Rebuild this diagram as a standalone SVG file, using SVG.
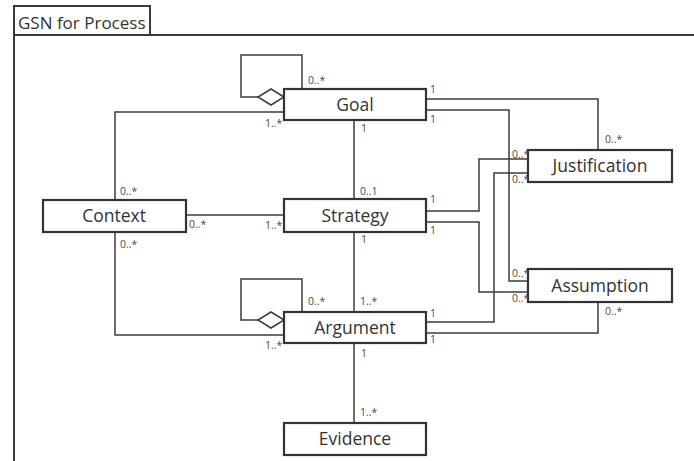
<svg xmlns="http://www.w3.org/2000/svg" width="694" height="461" viewBox="0 0 694 461">
  <style>
    .frame { fill: none; stroke: #3a3a3a; stroke-width: 2; }
    .box { fill: #ffffff; stroke: #333333; stroke-width: 2.2; }
    .wire { fill: none; stroke: #3d3d3d; stroke-width: 1.5; }
    .diamond { fill: #ffffff; stroke: #3d3d3d; stroke-width: 1.5; }
    .name { font-family: "Open Sans", "Liberation Sans", sans-serif; font-size: 17.5px; fill: #333333; text-anchor: middle; }
    .title { font-family: "Open Sans", "Liberation Sans", sans-serif; font-size: 17px; fill: #333333; }
    .mult { font-family: "Open Sans", "Liberation Sans", sans-serif; font-size: 10.5px; fill: #4a4a4a; }
  </style>

  <!-- package frame -->
  <g id="frame">
    <path class="frame" d="M14,470 V6 H150 V35 M14,35 H700"/>
    <text class="title" x="18" y="29">GSN for Process</text>
  </g>

  <!-- associations -->
  <g id="connectors">
    <!-- Goal self-aggregation -->
    <path class="wire" d="M258,97 H241 V55 H302 V89"/>
    <polygon class="diamond" points="284,97 271,89 258,97 271,105"/>
    <!-- Argument self-aggregation -->
    <path class="wire" d="M258,320 H241 V279 H302 V312"/>
    <polygon class="diamond" points="284,320 271,312 258,320 271,328"/>
    <!-- Goal / Context / Argument -->
    <path class="wire" d="M284,112 H115 V200"/>
    <path class="wire" d="M115,232 V335 H284"/>
    <!-- Context - Strategy -->
    <path class="wire" d="M186,215 H284"/>
    <!-- central spine -->
    <path class="wire" d="M354,120 V199"/>
    <path class="wire" d="M354,232 V312"/>
    <path class="wire" d="M354,343 V423"/>
    <!-- Goal to Justification / Assumption -->
    <path class="wire" d="M426,99 H598 V150"/>
    <path class="wire" d="M426,110 H509 V281 H528"/>
    <!-- Strategy to Justification / Assumption -->
    <path class="wire" d="M426,211 H479 V159 H528"/>
    <path class="wire" d="M426,222 H479 V292 H528"/>
    <!-- Argument to Justification / Assumption -->
    <path class="wire" d="M426,322 H494 V173 H528"/>
    <path class="wire" d="M426,333 H598 V302"/>
  </g>

  <g id="goal">
    <rect class="box" x="284" y="89" width="142" height="31"/>
    <text class="name" x="355" y="111">Goal</text>
  </g>
  <g id="strategy">
    <rect class="box" x="284" y="199" width="142" height="33"/>
    <text class="name" x="355" y="222">Strategy</text>
  </g>
  <g id="argument">
    <rect class="box" x="284" y="312" width="142" height="31"/>
    <text class="name" x="355" y="334">Argument</text>
  </g>
  <g id="evidence">
    <rect class="box" x="284" y="423" width="142" height="32"/>
    <text class="name" x="355" y="445">Evidence</text>
  </g>
  <g id="context">
    <rect class="box" x="43" y="200" width="143" height="32"/>
    <text class="name" x="114" y="222">Context</text>
  </g>
  <g id="justification">
    <rect class="box" x="528" y="150" width="144" height="32"/>
    <text class="name" x="600" y="172">Justification</text>
  </g>
  <g id="assumption">
    <rect class="box" x="528" y="269" width="144" height="33"/>
    <text class="name" x="600" y="292">Assumption</text>
  </g>

  <!-- multiplicities -->
  <g id="multiplicities">
    <text class="mult" x="308" y="84">0..*</text>
    <text class="mult" x="265" y="127">1..*</text>
    <text class="mult" x="430" y="93">1</text>
    <text class="mult" x="430" y="123">1</text>
    <text class="mult" x="361" y="132">1</text>
    <text class="mult" x="605" y="143">0..*</text>
    <text class="mult" x="512" y="158">0..*</text>
    <text class="mult" x="512" y="183">0..*</text>
    <text class="mult" x="120" y="195">0..*</text>
    <text class="mult" x="120" y="248">0..*</text>
    <text class="mult" x="189" y="228">0..*</text>
    <text class="mult" x="265" y="229">1..*</text>
    <text class="mult" x="360" y="195">0..1</text>
    <text class="mult" x="430" y="203">1</text>
    <text class="mult" x="430" y="234">1</text>
    <text class="mult" x="361" y="243">1</text>
    <text class="mult" x="512" y="277">0..*</text>
    <text class="mult" x="512" y="302">0..*</text>
    <text class="mult" x="605" y="315">0..*</text>
    <text class="mult" x="308" y="305">0..*</text>
    <text class="mult" x="360" y="305">1..*</text>
    <text class="mult" x="430" y="317">1</text>
    <text class="mult" x="430" y="343">1</text>
    <text class="mult" x="265" y="349">1..*</text>
    <text class="mult" x="361" y="357">1</text>
    <text class="mult" x="360" y="416">1..*</text>
  </g>
</svg>
